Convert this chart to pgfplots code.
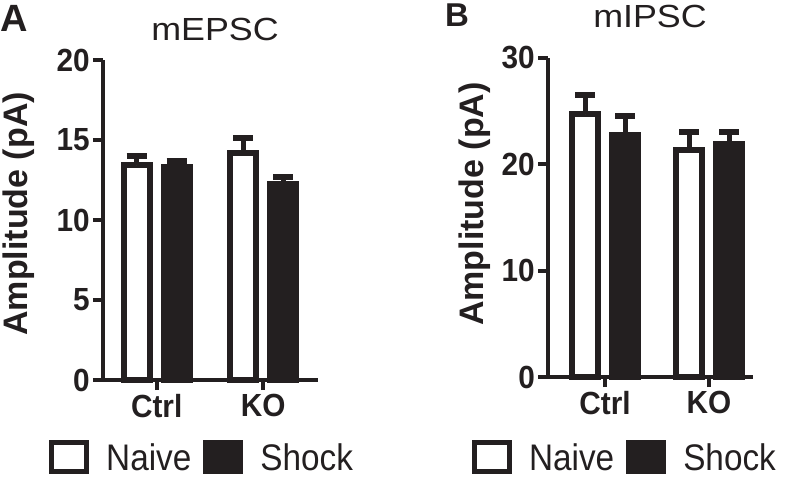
\documentclass[border=0pt]{standalone}
\usepackage{pgfplots}
\pgfplotsset{compat=1.18}
\usepackage{fontspec}
\setmainfont{Liberation Sans}
\newfontfamily\tickf[FakeStretch=0.93]{Liberation Sans}
\newfontfamily\legf[FakeStretch=0.9]{Liberation Sans}
\newfontfamily\titf[FakeStretch=1.12]{Liberation Sans}
\definecolor{dk}{RGB}{35,31,32}

\pgfplotsset{
  panel/.style={
    scale only axis, ybar, ymin=0, clip=false,
    axis lines*=left,
    axis line style={line width=4bp, dk},
    every tick/.style={line width=4bp, dk},
    tick align=outside, major tick length=10bp,
    xtick={0,1}, xticklabels={Ctrl,KO},
    /pgf/number format/assume math mode=true,
    x tick label style={font=\tickf\bfseries\fontsize{32bp}{32bp}\selectfont, text=dk, inner sep=0pt, anchor=north, yshift=-4bp},
    y tick label style={font=\tickf\bfseries\fontsize{32bp}{32bp}\selectfont, text=dk, inner sep=0pt, anchor=east, xshift=-3bp},
    ylabel={Amplitude (pA)},
    legend columns=-1,
    legend style={draw=none, fill=none, inner sep=0pt, anchor=north west,
      font=\legf\fontsize{37bp}{37bp}\selectfont, text=dk,
      nodes={inner sep=0pt},
      /tikz/every even column/.append style={column sep=12bp},
      /tikz/every odd column/.append style={column sep=17bp}},
    error bars/y dir=plus, error bars/y explicit,
    error bars/error bar style={line width=5bp, draw=dk},
    error bars/error mark options={rotate=90, line width=6bp, mark size=10bp, draw=dk},
  },
  naive/.style={fill=white, draw=dk, line width=6bp, bar width=26bp, bar shift=-20bp,
    legend image code/.code={\draw[line width=5bp, draw=dk, fill=white] (0bp,-14bp) rectangle (35bp,15bp);}},
  shock/.style={fill=dk, draw=dk, line width=6bp, bar width=26bp, bar shift=20bp,
    legend image code/.code={\draw[line width=5bp, draw=dk, fill=dk] (0bp,-14bp) rectangle (35bp,15bp);}},
}

\begin{document}
\begin{tikzpicture}
\useasboundingbox (0,0) rectangle (785bp,478bp);

\begin{axis}[panel,
  at={(103bp,98bp)}, anchor=south west,
  width=215bp, height=320bp,
  xmin=-0.504, xmax=1.513, ymax=20,
  ytick={0,5,10,15,20},
  ylabel style={font=\bfseries\fontsize{34bp}{34bp}\selectfont, text=dk, inner sep=0pt,
    at={(axis description cs:-0.353,0.519)}, anchor=base},
  legend style={at={(axis description cs:-0.251,-0.188)}},
]
\addplot[naive] coordinates {(0,13.42) +- (0,0.60) (1,14.19) +- (0,0.92)};
\addplot[shock] coordinates {(0,13.31) +- (0,0.36) (1,12.25) +- (0,0.44)};
\legend{Naive,Shock}
\end{axis}

\begin{axis}[panel,
  at={(548bp,101bp)}, anchor=south west,
  width=205bp, height=319bp,
  xmin=-0.548, xmax=1.423, ymax=30,
  ytick={0,10,20,30},
  ylabel style={font=\bfseries\fontsize{34bp}{34bp}\selectfont, text=dk, inner sep=0pt,
    at={(axis description cs:-0.317,0.542)}, anchor=base},
  legend style={at={(axis description cs:-0.371,-0.198)}},
]
\addplot[naive] coordinates {(0,24.70) +- (0,1.80) (1,21.35) +- (0,1.65)};
\addplot[shock] coordinates {(0,22.80) +- (0,1.75) (1,21.95) +- (0,1.05)};
\legend{Naive,Shock}
\end{axis}

\node[anchor=base west, inner sep=0pt, font=\bfseries\fontsize{38bp}{38bp}\selectfont, text=dk] at (0bp,446bp) {A};
\node[anchor=base west, inner sep=0pt, font=\bfseries\fontsize{33bp}{33bp}\selectfont, text=dk] at (445bp,451bp) {B};
\node[anchor=base, inner sep=0pt, font=\titf\fontsize{32bp}{32bp}\selectfont, text=dk] at (215bp,437.3bp) {mEPSC};
\node[anchor=base, inner sep=0pt, font=\titf\fontsize{32bp}{32bp}\selectfont, text=dk] at (650bp,450bp) {mIPSC};
\end{tikzpicture}
\end{document}
